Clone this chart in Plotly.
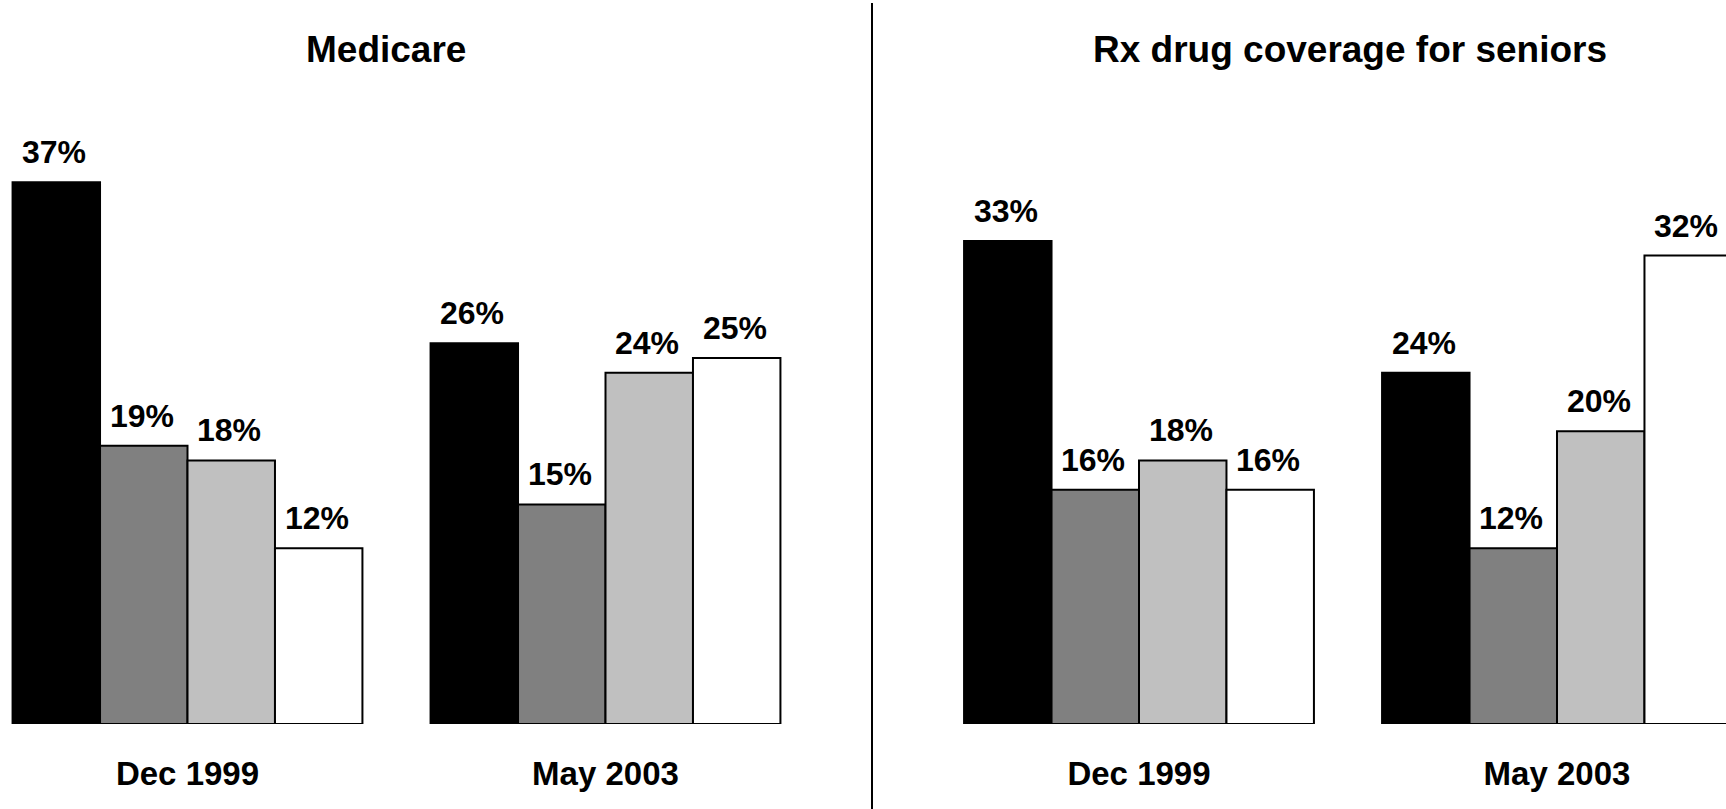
import plotly.graph_objects as go

periods = ["Dec 1999", "May 2003"]
series_names = ["Series 1", "Series 2", "Series 3", "Series 4"]
series_colors = ["#000000", "#808080", "#C0C0C0", "#FFFFFF"]

medicare_s1 = [37, 26]
medicare_s2 = [19, 15]
medicare_s3 = [18, 24]
medicare_s4 = [12, 25]

rx_s1 = [33, 24]
rx_s2 = [16, 12]
rx_s3 = [18, 20]
rx_s4 = [16, 32]

panel_titles = ["Medicare", "Rx drug coverage for seniors"]

W, H = 1726, 809
FONT = "Liberation Sans, Arial, sans-serif"
BASE_PX = 724          # pixel row of bar baseline
DIV_PX = 872           # divider pixel column
PX_PER_CAT = 418.0
BARGAP = 0.163
bar_w = (1 - BARGAP) / 4

fig = go.Figure()

panels = [
    ("x", "y", [medicare_s1, medicare_s2, medicare_s3, medicare_s4]),
    ("x2", "y2", [rx_s1, rx_s2, rx_s3, rx_s4]),
]

annotations = []
for xa, ya, series in panels:
    for k, (name, col, vals) in enumerate(zip(series_names, series_colors, series)):
        fig.add_trace(go.Bar(
            x=periods, y=vals, name=name, xaxis=xa, yaxis=ya,
            marker=dict(color=col, line=dict(color="#000000", width=2)),
            showlegend=False, hoverinfo="x+y",
        ))
        for g, v in enumerate(vals):
            annotations.append(dict(
                x=g + (k - 1.5) * bar_w, y=v, xref=xa, yref=ya,
                text="<b>%d%%</b>" % v, showarrow=False,
                yanchor="bottom", xanchor="center", yshift=10, xshift=-2,
                font=dict(family=FONT, size=32, color="#000000"),
            ))

for i, t in enumerate(panel_titles):
    cx = [385.5, 1350.0][i]
    annotations.append(dict(
        x=cx / W, y=(BASE_PX - 49.5) / BASE_PX, xref="paper", yref="paper",
        text="<b>%s</b>" % t, showarrow=False, xanchor="center", yanchor="middle",
        font=dict(family=FONT, size=37, color="#000000"),
    ))

div = DIV_PX / W
left_center0 = 187.5
right_center0 = 1139.0

y_top = BASE_PX / 14.64

axis_common = dict(
    type="category", showgrid=False, zeroline=False, showline=False, ticks="",
    tickfont=dict(family=FONT, size=33, color="#000000"),
    ticklabelstandoff=27, fixedrange=True,
)
yaxis_common = dict(range=[0, y_top], showgrid=False, zeroline=False, showline=False,
                    showticklabels=False, ticks="", fixedrange=True)

fig.update_layout(
    width=W, height=H,
    margin=dict(l=0, r=0, t=0, b=H - BASE_PX, pad=0),
    paper_bgcolor="#FFFFFF", plot_bgcolor="#FFFFFF",
    barmode="group", bargap=BARGAP, bargroupgap=0,
    xaxis=dict(domain=[0, div],
               range=[(0 - left_center0) / PX_PER_CAT, (DIV_PX - left_center0) / PX_PER_CAT],
               tickvals=periods, ticktext=["<b>%s</b>" % p for p in periods],
               **axis_common),
    xaxis2=dict(domain=[div, 1],
                range=[(DIV_PX - right_center0) / PX_PER_CAT, (W - right_center0) / PX_PER_CAT],
                tickvals=periods, ticktext=["<b>%s</b>" % p for p in periods],
                anchor="y2", **axis_common),
    yaxis=dict(domain=[0, 1], anchor="x", **yaxis_common),
    yaxis2=dict(domain=[0, 1], anchor="x2", **yaxis_common),
    annotations=annotations,
    shapes=[dict(type="line", xref="paper", yref="paper",
                 x0=div, x1=div, y0=(BASE_PX - H) / BASE_PX, y1=(BASE_PX - 3) / BASE_PX,
                 line=dict(color="#000000", width=2))],
)

fig.write_html(
    "out.html",
    config={"displayModeBar": False},
    post_script="document.body.style.margin='0';document.body.style.overflow='hidden';",
)
